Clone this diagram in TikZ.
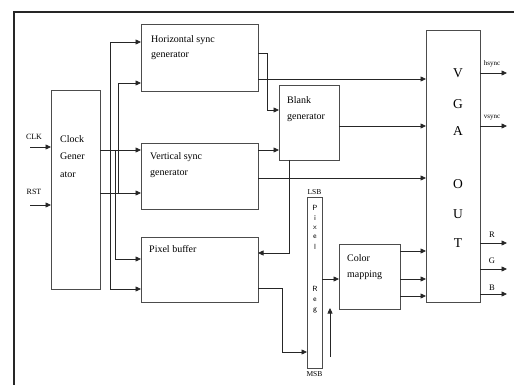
\documentclass[tikz,border=0pt]{standalone}
\usepackage{fontspec}
\setmainfont{Liberation Serif}
\usetikzlibrary{arrows.meta,positioning}

\tikzset{
  blk/.style={draw=black!70,line width=0.8pt,inner sep=0pt,outer sep=0pt},
  txt/.style={inner sep=0pt,align=left,font=\fontsize{10}{16}\selectfont},
  sml/.style={inner sep=0pt,font=\fontsize{7.5}{8}\selectfont},
  big/.style={inner sep=0pt,font=\fontsize{13.5}{14}\selectfont},
  wire/.style={black!85,line width=0.7pt},
  arr/.style={wire,-{Triangle[length=5.5pt,width=5pt]}}
}

\begin{document}
\begin{tikzpicture}[x=1pt,y=-1pt]
\useasboundingbox (0,0) rectangle (514,385);
\draw[line width=2pt,black!85] (514,12) -- (14,12) -- (14,385);

% blocks
\node[blk,minimum width=49pt,minimum height=199pt] (clkgen) at (75.5,189.5) {};
\node[blk,minimum width=117pt,minimum height=67pt] (hsync) at (199.5,57.5) {};
\node[blk,minimum width=117pt,minimum height=66pt] (vsync) at (199.5,176) {};
\node[blk,minimum width=117pt,minimum height=65pt] (pixbuf) at (199.5,269.5) {};
\node[blk,minimum width=60pt,minimum height=75pt] (blank) at (309,122.5) {};
\node[blk,minimum width=15pt,minimum height=171pt] (pixreg) at (314.5,282.5) {};
\node[blk,minimum width=61pt,minimum height=65pt] (colmap) at (369.5,276.5) {};
\node[blk,minimum width=54pt,minimum height=272pt] (vgaout) at (453,166) {};

% block texts
\node[txt,font=\fontsize{10}{17.5}\selectfont,below right=45pt and 9pt of clkgen.north west] (clktxt) {Clock\\Gener\\ator};
\node[txt,font=\fontsize{10}{15}\selectfont,below right=11pt and 10pt of hsync.north west] (hstxt) {Horizontal sync\\generator};
\node[txt,below right=9pt and 9pt of vsync.north west] (vstxt) {Vertical sync\\generator};
\node[txt,below right=8pt and 8pt of pixbuf.north west] (pbtxt) {Pixel buffer};
\node[txt,below right=11pt and 8pt of blank.north west] (bltxt) {Blank\\generator};
\node[txt,below right=10pt and 8pt of colmap.north west] (cmtxt) {Color\\mapping};
\foreach \c/\y in {V/73.5,G/104,A/131,O/184,U/214,T/243}
  \node[big] (vga\c) at (458,\y) {\c};
\foreach \c [count=\i] /\y in {P/208,i/218,x/228,e/237,l/247,R/289,e/300,g/311}
  \node[sml,font=\fontsize{7.5}{8}\sffamily] (reg\i) at (315,\y) {\c};
\node[sml,above=2pt of pixreg] (lsb) {LSB};
\node[sml,below=3pt of pixreg] (msb) {MSB};

% inputs
\node[sml,font=\fontsize{8}{9}\selectfont] (clklbl) at (34,137) {CLK};
\node[sml,font=\fontsize{8}{9}\selectfont] (rstlbl) at (34,192) {RST};
\coordinate (clkin) at (30,147);
\coordinate (rstin) at (30,205);
\draw[arr] (clkin) -- (clkin -| clkgen.west);
\draw[arr] (rstin) -- (rstin -| clkgen.west);

% clock distribution
\draw[arr] (clkgen.east |- 0,150) -- (vsync.west |- 0,150);
\draw[arr] (clkgen.east |- 0,193) -- (vsync.west |- 0,193);
\draw[arr] (115,150) |- (pixbuf.west |- 0,259);
\draw[arr] (118,193) |- (hsync.west |- 0,83);
\draw[arr] (110,289) |- (hsync.west |- 0,42);
\draw[arr] (110,289) -- (pixbuf.west |- 0,289);

% sync and blank
\draw[arr] (hsync.east |- 0,53) -- (267,53) |- (blank.west |- 0,110);
\draw[arr] (hsync.east |- 0,79) -- (vgaout.west |- 0,79);
\draw[arr] (vsync.east |- 0,150) -- (blank.west |- 0,150);
\draw[arr] (vsync.east |- 0,178) -- (vgaout.west |- 0,178);
\draw[arr] (blank.east |- 0,126) -- (vgaout.west |- 0,126);
\draw[arr] (289,0 |- blank.south) |- (pixbuf.east |- 0,253);

% pixel path
\draw[arr] (pixbuf.east |- 0,288) -- (282,288) |- (pixreg.west |- 0,352);
\coordinate (regin) at (330,357);
\draw[arr] (regin) -- (330,308);
\draw[arr] (pixreg.east |- 0,279) -- (colmap.west |- 0,279);
\foreach \y in {251,279,296}
  \draw[arr] (colmap.east |- 0,\y) -- (vgaout.west |- 0,\y);

% outputs
\foreach \n/\y in {hs/73,vs/126,r/243,g/269,b/294}{
  \coordinate (o\n) at (507,\y);
  \draw[arr] (vgaout.east |- o\n) -- (o\n);
}
\node[sml,font=\fontsize{7}{8}\selectfont,above=6pt of ohs,xshift=-15pt] (hslbl) {hsync};
\node[sml,font=\fontsize{7}{8}\selectfont,above=6pt of ovs,xshift=-15pt] (vslbl) {vsync};
\node[sml,font=\fontsize{8.5}{9}\selectfont,above=5pt of or,xshift=-15pt] (rlbl) {R};
\node[sml,font=\fontsize{8.5}{9}\selectfont,above=5pt of og,xshift=-15pt] (glbl) {G};
\node[sml,font=\fontsize{8.5}{9}\selectfont,above=3pt of ob,xshift=-15pt] (blbl) {B};
\end{tikzpicture}
\end{document}
